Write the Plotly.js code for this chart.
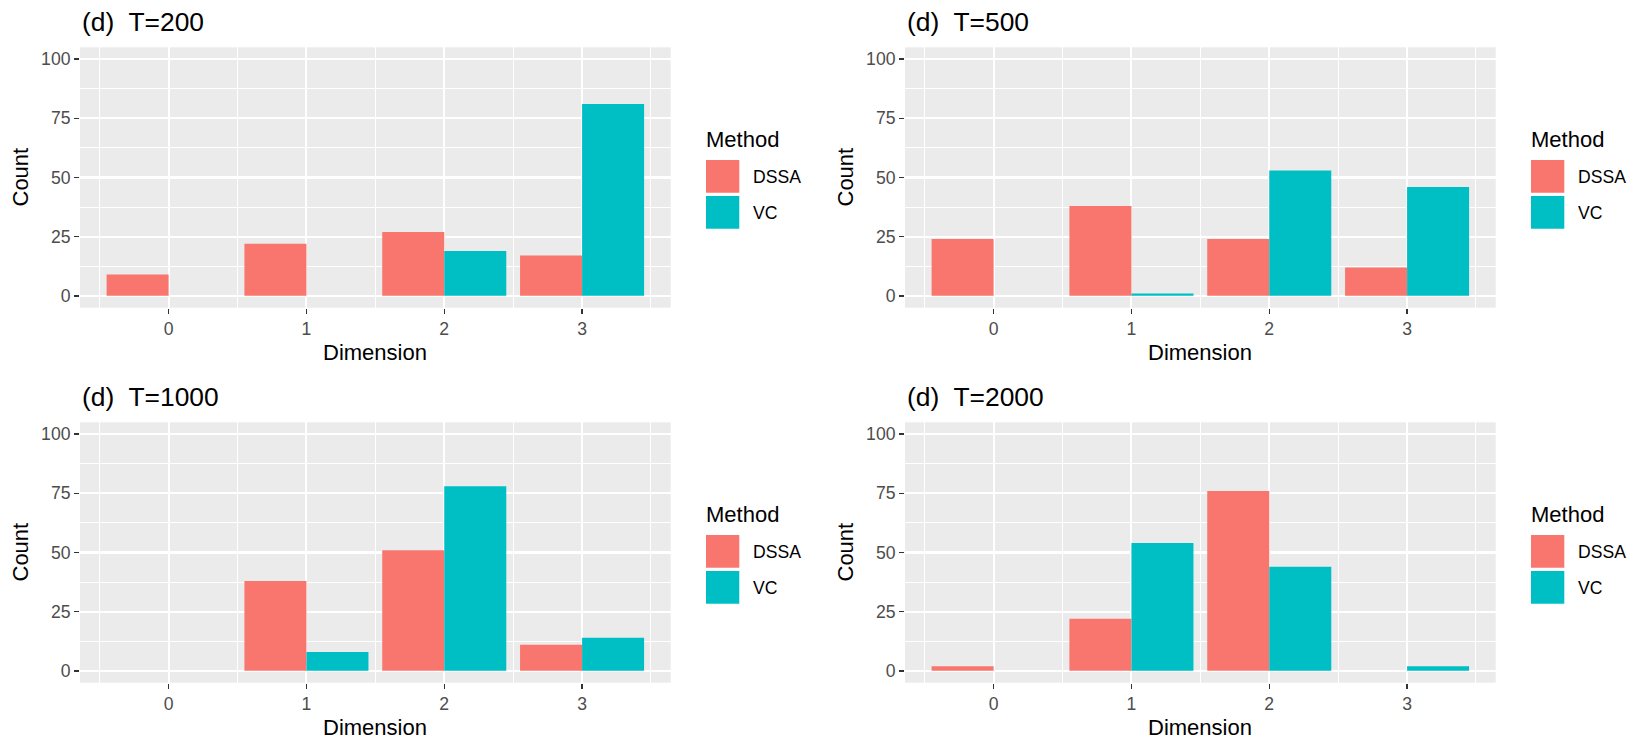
<!DOCTYPE html>
<html>
<head>
<meta charset="utf-8">
<script src="https://cdn.plot.ly/plotly-3.0.1.min.js"></script>
<style>html,body{margin:0;padding:0;background:#fff;}#chart{width:1650px;height:750px;}</style>
</head>
<body>
<div id="chart"></div>
<script>
// ---- data ----
const dims = [0, 1, 2, 3];
const tickLabels = ['0', '1', '2', '3'];
const methods = ['DSSA', 'VC'];
const panelTitles = ['(d)\u00a0 T=200', '(d)\u00a0 T=500', '(d)\u00a0 T=1000', '(d)\u00a0 T=2000'];
const dssaT200 = [9, 22, 27, 17];
const vcT200 = [0, 0, 19, 81];
const dssaT500 = [24, 38, 24, 12];
const vcT500 = [0, 1, 53, 46];
const dssaT1000 = [0, 38, 51, 11];
const vcT1000 = [0, 8, 78, 14];
const dssaT2000 = [2, 22, 76, 0];
const vcT2000 = [0, 54, 44, 2];
const yTicks = [0, 25, 50, 75, 100];

// ---- styling ----
const W = 1650, H = 750;
const FONT = 'Liberation Sans, Arial, Helvetica, sans-serif';
const colors = ['#F8766D', '#00BFC4'];
const series = [[dssaT200, vcT200], [dssaT500, vcT500], [dssaT1000, vcT1000], [dssaT2000, vcT2000]];
const px = v => v / W;
const py = v => 1 - v / H;
const offX = [0, 825, 0, 825];
const offY = [0, 0, 375, 375];
const P = {left: 80, right: 670.7, top: 47.3, bottom: 307.7};

const traces = [];
const layout = {
  width: W, height: H,
  margin: {l: 0, r: 0, t: 0, b: 0},
  paper_bgcolor: '#FFFFFF',
  plot_bgcolor: '#EBEBEB',
  barmode: 'group',
  bargap: 0.1,
  bargroupgap: 0,
  showlegend: false,
  font: {family: FONT, color: '#000'},
  annotations: [],
  shapes: []
};

for (let i = 0; i < 4; i++) {
  const sfx = i === 0 ? '' : String(i + 1);
  const xa = 'x' + sfx, ya = 'y' + sfx;
  for (let m = 0; m < 2; m++) {
    traces.push({
      type: 'bar', x: dims, y: series[i][m], name: methods[m],
      xaxis: xa, yaxis: ya,
      marker: {color: colors[m], line: {width: 0}},
      hoverinfo: 'x+y+name'
    });
  }
  const L = P.left + offX[i], R = P.right + offX[i];
  const T = P.top + offY[i], B = P.bottom + offY[i];
  layout['xaxis' + sfx] = {
    domain: [px(L), px(R)], anchor: ya,
    range: [-0.643, 3.643],
    tickmode: 'array', tickvals: dims, ticktext: tickLabels,
    ticks: 'outside', ticklen: 5, tickwidth: 1.5, tickcolor: '#333333',
    tickfont: {family: FONT, size: 17.6, color: '#4D4D4D'},
    showgrid: true, gridcolor: '#FFFFFF', gridwidth: 2.1,
    minor: {tickmode: 'array', tickvals: [-0.5, 0.5, 1.5, 2.5, 3.5], showgrid: true, gridcolor: '#FFFFFF', gridwidth: 1, ticks: ''},
    zeroline: false, showline: false, fixedrange: true
  };
  layout['yaxis' + sfx] = {
    domain: [py(B), py(T)], anchor: xa,
    range: [-5, 105],
    tickmode: 'array', tickvals: yTicks, ticktext: yTicks.map(String),
    ticks: 'outside', ticklen: 5, tickwidth: 1.5, tickcolor: '#333333',
    tickfont: {family: FONT, size: 17.6, color: '#4D4D4D'},
    showgrid: true, gridcolor: '#FFFFFF', gridwidth: 2.1,
    minor: {tickmode: 'array', tickvals: [12.5, 37.5, 62.5, 87.5], showgrid: true, gridcolor: '#FFFFFF', gridwidth: 1, ticks: ''},
    zeroline: false, showline: false, fixedrange: true
  };
  // panel title
  layout.annotations.push({
    xref: 'paper', yref: 'paper', x: px(80 + offX[i]), y: py(22 + offY[i]),
    xanchor: 'left', yanchor: 'middle', showarrow: false,
    text: panelTitles[i], font: {family: FONT, size: 26.4, color: '#000'}
  });
  // x axis title
  layout.annotations.push({
    xref: 'paper', yref: 'paper', x: px((L + R) / 2), y: py(352 + offY[i]),
    xanchor: 'center', yanchor: 'middle', showarrow: false,
    text: 'Dimension', font: {family: FONT, size: 22, color: '#000'}
  });
  // y axis title
  layout.annotations.push({
    xref: 'paper', yref: 'paper', x: px(20 + offX[i]), y: py((T + B) / 2),
    xanchor: 'center', yanchor: 'middle', showarrow: false, textangle: -90,
    text: 'Count', font: {family: FONT, size: 22, color: '#000'}
  });
  // legend
  const lx = 706 + offX[i];
  layout.annotations.push({
    xref: 'paper', yref: 'paper', x: px(lx - 2), y: py(139 + offY[i]),
    xanchor: 'left', yanchor: 'middle', showarrow: false,
    text: 'Method', font: {family: FONT, size: 22, color: '#000'}
  });
  const keyTops = [160, 196];
  for (let m = 0; m < 2; m++) {
    const kt = keyTops[m] + offY[i];
    layout.shapes.push({
      type: 'rect', xref: 'paper', yref: 'paper',
      x0: px(lx), x1: px(lx + 33.3), y0: py(kt + 32.7), y1: py(kt),
      fillcolor: colors[m], line: {width: 0}
    });
    layout.annotations.push({
      xref: 'paper', yref: 'paper', x: px(751 + offX[i]), y: py(kt + 16.5),
      xanchor: 'left', yanchor: 'middle', showarrow: false,
      text: methods[m], font: {family: FONT, size: 17.6, color: '#000'}
    });
  }
}

Plotly.newPlot('chart', traces, layout, {displayModeBar: false, staticPlot: true});
</script>
</body>
</html>
